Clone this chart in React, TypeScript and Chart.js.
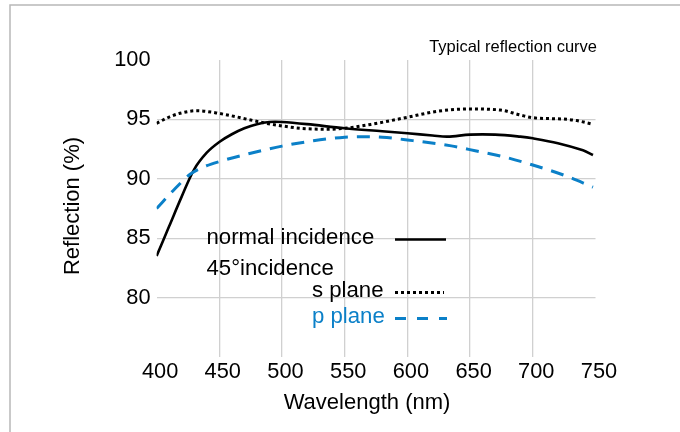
import React, { useEffect, useRef } from "react";
import { Chart, registerables } from "chart.js";

Chart.register(...registerables);

// Normal incidence
const normalWl = [400, 410, 420, 430, 440, 450, 460, 470, 480, 490, 500, 520, 550, 580, 600, 620, 632, 650, 670, 690, 700, 720, 740, 748];
const normalR = [83.5, 86.0, 88.5, 90.8, 92.2, 93.1, 93.75, 94.25, 94.6, 94.78, 94.78, 94.6, 94.25, 94.0, 93.83, 93.65, 93.55, 93.72, 93.72, 93.55, 93.41, 93.0, 92.4, 92.0];

// 45° incidence, s plane
const sWl = [400, 410, 420, 432, 450, 475, 485, 500, 515, 535, 550, 572, 600, 625, 650, 674, 690, 700, 724, 735, 748];
const sR = [94.67, 95.2, 95.55, 95.73, 95.5, 94.95, 94.72, 94.45, 94.25, 94.17, 94.25, 94.6, 95.18, 95.7, 95.88, 95.79, 95.37, 95.14, 95.03, 94.9, 94.59];

// 45° incidence, p plane
const pWl = [400, 415, 427, 440, 450, 475, 500, 525, 550, 565, 580, 600, 635, 655, 675, 700, 725, 748];
const pR = [87.5, 89.2, 90.4, 91.1, 91.45, 92.15, 92.75, 93.2, 93.5, 93.55, 93.5, 93.27, 92.77, 92.34, 91.9, 91.16, 90.3, 89.3];

const xTicks = [400, 450, 500, 550, 600, 650, 700, 750];
const yTicks = [75, 80, 85, 90, 95, 100];

const titleText = "Typical reflection curve";
const xTitle = "Wavelength (nm)";
const yTitle = "Reflection (%)";
const legendNormal = "normal incidence";
const legend45 = "45°incidence";
const legendS = "s plane";
const legendP = "p plane";

const BLUE = "#0b80c8";
const FONT = "'Liberation Sans', Arial, sans-serif";

const toPts = (xs: number[], ys: number[]) => xs.map((x, i) => ({ x, y: ys[i] }));

const overlay = {
  id: "overlay",
  afterDraw(chart: any) {
    const ctx = chart.ctx;
    ctx.save();
    // frame
    ctx.strokeStyle = "#b8b8b8";
    ctx.lineWidth = 1.5;
    ctx.beginPath();
    ctx.moveTo(10, 432);
    ctx.lineTo(10, 5);
    ctx.lineTo(680, 5);
    ctx.stroke();

    // title
    ctx.fillStyle = "#000";
    ctx.font = `16.5px ${FONT}`;
    ctx.textAlign = "right";
    ctx.textBaseline = "alphabetic";
    ctx.fillText(titleText, 597, 52);

    // axis titles
    ctx.font = `22px ${FONT}`;
    ctx.textAlign = "center";
    ctx.textBaseline = "middle";
    ctx.fillText(xTitle, 367, 403);
    ctx.save();
    ctx.translate(73, 206);
    ctx.rotate(-Math.PI / 2);
    ctx.fillText(yTitle, 0, 0);
    ctx.restore();

    // legend
    ctx.font = `22.2px ${FONT}`;
    ctx.textAlign = "left";
    ctx.textBaseline = "middle";
    ctx.fillStyle = "#000";
    ctx.fillText(legendNormal, 206.5, 238);
    ctx.fillText(legend45, 206.5, 268.5);
    ctx.fillText(legendS, 312, 291);
    ctx.fillStyle = BLUE;
    ctx.fillText(legendP, 312, 316.5);

    ctx.lineCap = "butt";
    ctx.strokeStyle = "#000";
    ctx.lineWidth = 2.6;
    ctx.setLineDash([]);
    ctx.beginPath();
    ctx.moveTo(395, 239.5);
    ctx.lineTo(446, 239.5);
    ctx.stroke();

    ctx.lineWidth = 3;
    ctx.setLineDash([3, 3]);
    ctx.beginPath();
    ctx.moveTo(395, 292.5);
    ctx.lineTo(444, 292.5);
    ctx.stroke();

    ctx.strokeStyle = BLUE;
    ctx.setLineDash([11, 11]);
    ctx.beginPath();
    ctx.moveTo(395, 318.5);
    ctx.lineTo(447, 318.5);
    ctx.stroke();
    ctx.restore();
  },
};

export default function App() {
  const ref = useRef<HTMLCanvasElement | null>(null);

  useEffect(() => {
    document.body.style.margin = "0";
    document.documentElement.style.overflow = "hidden";
    const canvas = ref.current;
    if (!canvas) return;
    const chart = new Chart(canvas, {
      type: "line",
      data: {
        datasets: [
          {
            label: "s plane",
            data: toPts(sWl, sR),
            borderColor: "#000",
            borderWidth: 3,
            borderDash: [3, 3],
            pointRadius: 0,
            cubicInterpolationMode: "monotone",
            fill: false,
          },
          {
            label: "p plane",
            data: toPts(pWl, pR),
            borderColor: BLUE,
            borderWidth: 3,
            borderDash: [13, 9],
            pointRadius: 0,
            cubicInterpolationMode: "monotone",
            fill: false,
          },
          {
            label: "normal incidence",
            data: toPts(normalWl, normalR),
            borderColor: "#000",
            borderWidth: 2.6,
            pointRadius: 0,
            tension: 0.35,
            fill: false,
          },
        ],
      },
      options: {
        responsive: false,
        animation: false,
        devicePixelRatio: 1,
        layout: { padding: { left: 0, top: 60, right: 84.5, bottom: 0 } },
        plugins: {
          legend: { display: false },
          title: { display: false },
          tooltip: { enabled: false },
        },
        scales: {
          x: {
            type: "linear",
            min: 400,
            max: 750,
            afterFit: (s: any) => {
              s.height = 75;
            },
            afterBuildTicks: (s: any) => {
              s.ticks = xTicks.map((v) => ({ value: v }));
            },
            border: { display: false },
            grid: {
              drawTicks: false,
              lineWidth: 1.3,
              color: (c: any) =>
                c.tick && (c.tick.value === 400 || c.tick.value === 750) ? "rgba(0,0,0,0)" : "#d0d0d0",
            },
            ticks: {
              padding: 2,
              labelOffset: 3.5,
              color: "#000",
              font: { family: FONT, size: 21.8 },
              maxRotation: 0,
            },
          },
          y: {
            type: "linear",
            min: 75,
            max: 100,
            afterFit: (s: any) => {
              s.width = 156.6;
            },
            afterBuildTicks: (s: any) => {
              s.ticks = yTicks.map((v) => ({ value: v }));
            },
            border: { display: false },
            grid: {
              drawTicks: false,
              lineWidth: 1.3,
              color: (c: any) =>
                c.tick && (c.tick.value === 75 || c.tick.value === 100) ? "rgba(0,0,0,0)" : "#d0d0d0",
            },
            ticks: {
              padding: 6,
              color: "#000",
              font: { family: FONT, size: 21.8 },
              callback: (v: any) => (v === 75 ? "" : String(v)),
            },
          },
        },
      },
      plugins: [overlay],
    } as any);
    return () => chart.destroy();
  }, []);

  return (
    <div style={{ position: "relative", width: 680, height: 432 }}>
      <canvas ref={ref} width={680} height={432} style={{ display: "block" }} />
    </div>
  );
}
